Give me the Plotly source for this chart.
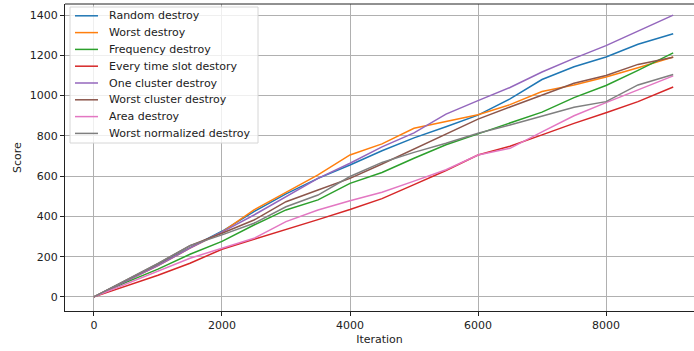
import plotly.graph_objects as go

# Iterations at which each destroy operator's cumulative score was recorded
iterations = [0, 500, 1000, 1500, 2000, 2500, 3000, 3500, 4000, 4500,
              5000, 5500, 6000, 6500, 7000, 7500, 8000, 8500, 9050]

random_destroy = [0, 80, 160, 245, 326, 424, 512, 589, 655, 726,
                  790, 845, 903, 984, 1080, 1143, 1192, 1255, 1307]
worst_destroy = [0, 78, 155, 242, 322, 432, 520, 606, 705, 760,
                 838, 870, 905, 955, 1020, 1053, 1092, 1138, 1192]
frequency_destroy = [0, 72, 138, 212, 276, 357, 432, 482, 564, 618,
                     689, 756, 810, 865, 918, 990, 1050, 1125, 1212]
every_slot_destroy = [0, 55, 108, 167, 237, 286, 334, 384, 434, 488,
                      558, 628, 705, 748, 805, 862, 915, 970, 1043]
one_cluster_destroy = [0, 78, 155, 242, 322, 407, 498, 589, 664, 745,
                       815, 908, 975, 1040, 1117, 1185, 1248, 1320, 1400]
worst_cluster_destroy = [0, 82, 165, 255, 316, 382, 473, 531, 589, 660,
                         733, 810, 883, 943, 1003, 1061, 1100, 1155, 1190]
area_destroy = [0, 65, 126, 192, 242, 291, 374, 432, 478, 520,
                575, 632, 705, 738, 820, 900, 965, 1028, 1098]
worst_normalized_destroy = [0, 84, 166, 255, 308, 366, 448, 506, 598, 668,
                            718, 763, 813, 854, 898, 942, 970, 1053, 1105]

series = [
    ("Random destroy", random_destroy, "#1f77b4"),
    ("Worst destroy", worst_destroy, "#ff7f0e"),
    ("Frequency destroy", frequency_destroy, "#2ca02c"),
    ("Every time slot destory", every_slot_destroy, "#d62728"),
    ("One cluster destroy", one_cluster_destroy, "#9467bd"),
    ("Worst cluster destroy", worst_cluster_destroy, "#8c564b"),
    ("Area destroy", area_destroy, "#e377c2"),
    ("Worst normalized destroy", worst_normalized_destroy, "#7f7f7f"),
]

x_ticks = [0, 2000, 4000, 6000, 8000]
y_ticks = [0, 200, 400, 600, 800, 1000, 1200, 1400]

W, H = 694, 351
M_L, M_R, M_T, M_B = 65, 0, 4, 40
PW, PH = W - M_L - M_R, H - M_T - M_B


def px_to_paper(px, py):
    return (px - M_L) / PW, (H - M_B - py) / PH


fig = go.Figure()
for name, values, color in series:
    fig.add_trace(go.Scatter(
        x=iterations, y=values, mode="lines", name=name,
        line=dict(color=color, width=1.5), showlegend=False,
    ))

font_family = "DejaVu Sans"
axis_common = dict(
    showline=True, linecolor="#222", linewidth=1, mirror=False,
    ticks="outside", ticklen=4, tickwidth=1, tickcolor="#222",
    showgrid=True, gridcolor="#b0b0b0", gridwidth=0.8,
    zeroline=False,
    tickfont=dict(family=font_family, size=11, color="#222"),
    title_font=dict(family=font_family, size=11, color="#222"),
)

fig.update_layout(
    width=W, height=H,
    margin=dict(l=M_L, r=M_R, t=M_T, b=M_B),
    paper_bgcolor="white", plot_bgcolor="white",
    xaxis=dict(
        range=[-453, 9375], tickvals=x_ticks,
        title=dict(text="Iteration", standoff=4),
        **axis_common,
    ),
    yaxis=dict(
        range=[-70, 1455], tickvals=y_ticks,
        title=dict(text="Score", standoff=5),
        **axis_common,
    ),
)

# top spine of the axes box
fig.add_shape(type="line", xref="paper", yref="paper", x0=0, x1=1, y0=1, y1=1,
              line=dict(color="#222", width=1))

# legend box drawn in the upper-left corner of the axes
bx0, by0 = px_to_paper(70, 143)
bx1, by1 = px_to_paper(258, 7)
fig.add_shape(type="rect", xref="paper", yref="paper",
              x0=bx0, y0=by0, x1=bx1, y1=by1,
              fillcolor="rgba(255,255,255,0.8)",
              line=dict(color="#d6d6d6", width=1), layer="above")

row_h = 16.8
for i, (name, _, color) in enumerate(series):
    cy = 15.8 + i * row_h
    hx0, hy = px_to_paper(75, cy)
    hx1, _ = px_to_paper(98, cy)
    fig.add_shape(type="line", xref="paper", yref="paper",
                  x0=hx0, x1=hx1, y0=hy, y1=hy,
                  line=dict(color=color, width=1.5), layer="above")
    tx, _ = px_to_paper(107, cy)
    fig.add_annotation(x=tx, y=hy, xref="paper", yref="paper",
                       text=name, showarrow=False,
                       xanchor="left", yanchor="middle",
                       font=dict(family=font_family, size=11, color="#222"))

fig.write_html("out.html")
